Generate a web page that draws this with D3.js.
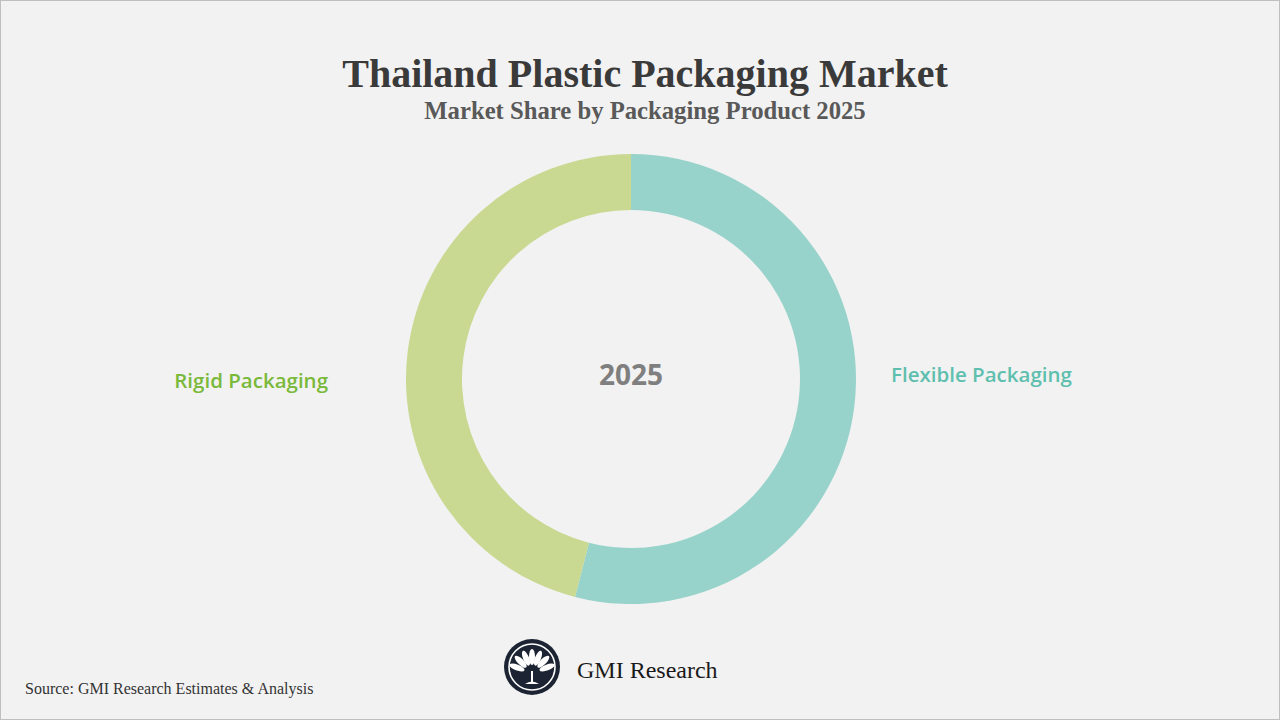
<!DOCTYPE html>
<html lang="en">
<head>
<meta charset="UTF-8">
<title>Thailand Plastic Packaging Market</title>
<script src="https://d3js.org/d3.v7.min.js"></script>
<style>
body { margin: 0; background: #f2f2f2; }
svg { display: block; }
</style>
</head>
<body>
<script>
// data
const segments = ["Flexible Packaging", "Rigid Packaging"]
const shares = [54, 46]
const segColors = ["#98d3cb", "#c9d992"]
const labelColors = ["#5fbfae", "#7ab93a"]
const centerLabel = "2025"

const width = 1280, height = 720
const svg = d3.select("body").append("svg")
    .attr("width", width)
    .attr("height", height)

svg.append("rect")
    .attr("x", 0.5).attr("y", 0.5)
    .attr("width", width - 1).attr("height", height - 1)
    .attr("fill", "#f2f2f2")
    .attr("stroke", "#bfbfbf")

svg.append("text")
    .attr("x", 645).attr("y", 87)
    .attr("text-anchor", "middle")
    .style("font-family", "'Liberation Serif', serif")
    .style("font-weight", "bold")
    .style("font-size", "40px")
    .attr("fill", "#3a3a3a")
    .text("Thailand Plastic Packaging Market")

svg.append("text")
    .attr("x", 645).attr("y", 119)
    .attr("text-anchor", "middle")
    .style("font-family", "'Liberation Serif', serif")
    .style("font-weight", "bold")
    .style("font-size", "24.7px")
    .attr("fill", "#595959")
    .text("Market Share by Packaging Product 2025")

// donut
const cx = 631, cy = 379
const pie = d3.pie().sort(null).value(d => d)
const arc = d3.arc().innerRadius(169).outerRadius(225)
const arcs = pie(shares)

const g = svg.append("g").attr("transform", `translate(${cx},${cy})`)
g.selectAll("path")
    .data(arcs)
    .enter()
    .append("path")
    .attr("d", arc)
    .attr("fill", (d, i) => segColors[i])

g.append("text")
    .attr("y", 6)
    .attr("text-anchor", "middle")
    .style("font-family", "'Open Sans', sans-serif")
    .style("font-weight", "bold")
    .style("font-size", "28px")
    .attr("fill", "#7f7f7f")
    .text(centerLabel)

// side labels
const labelPos = [[891, 382, "start"], [328, 388, "end"]]
svg.selectAll(".seg-label")
    .data(segments)
    .enter()
    .append("text")
    .attr("class", "seg-label")
    .attr("x", (d, i) => labelPos[i][0])
    .attr("y", (d, i) => labelPos[i][1])
    .attr("text-anchor", (d, i) => labelPos[i][2])
    .style("font-family", "'Open Sans', sans-serif")
    .style("font-weight", "600")
    .style("font-size", "20.5px")
    .attr("fill", (d, i) => labelColors[i])
    .text(d => d)

// logo
const logo = svg.append("g").attr("transform", "translate(532,667)")
logo.append("circle").attr("r", 28).attr("fill", "#1c2433")
logo.append("circle").attr("r", 23).attr("fill", "none")
    .attr("stroke", "#fff").attr("stroke-width", 1.6)
const petalAngles = [-70, -45, -22, 0, 22, 45, 70]
logo.selectAll(".petal")
    .data(petalAngles)
    .enter()
    .append("ellipse")
    .attr("cx", 0).attr("cy", -10)
    .attr("rx", 3).attr("ry", 8)
    .attr("fill", "#fff")
    .attr("transform", d => `translate(0,6) rotate(${d}) translate(0,-6)`)
logo.append("rect").attr("x", -1).attr("y", 4).attr("width", 2).attr("height", 12).attr("fill", "#fff")
logo.append("path").attr("d", "M-7,17 Q0,12 7,17 Z").attr("fill", "#fff")

svg.append("text")
    .attr("x", 577).attr("y", 678)
    .style("font-family", "'Liberation Serif', serif")
    .style("font-size", "24px")
    .attr("fill", "#1a1a1a")
    .text("GMI Research")

svg.append("text")
    .attr("x", 25).attr("y", 694)
    .style("font-family", "'Liberation Serif', serif")
    .style("font-size", "16px")
    .attr("fill", "#333")
    .text("Source: GMI Research Estimates & Analysis")
</script>
</body>
</html>
